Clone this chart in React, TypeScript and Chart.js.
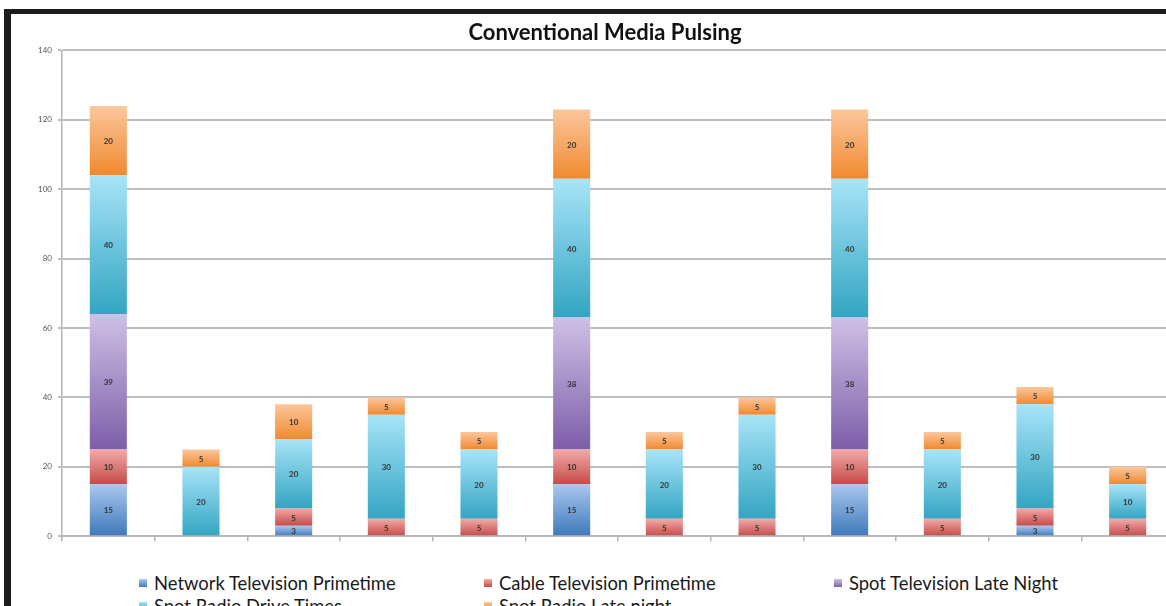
import React, { useEffect, useRef } from "react";
import { Chart, registerables } from "chart.js";

Chart.register(...registerables);

const categories = ["1", "2", "3", "4", "5", "6", "7", "8", "9", "10", "11", "12"];
const networkTV = [15, 0, 3, 0, 0, 15, 0, 0, 15, 0, 3, 0];
const cableTV = [10, 0, 5, 5, 5, 10, 5, 5, 10, 5, 5, 5];
const spotTVLate = [39, 0, 0, 0, 0, 38, 0, 0, 38, 0, 0, 0];
const radioDrive = [40, 20, 20, 30, 20, 40, 20, 30, 40, 20, 30, 10];
const radioLate = [20, 5, 10, 5, 5, 20, 5, 5, 20, 5, 5, 5];
const yTicks = [0, 20, 40, 60, 80, 100, 120, 140];

const seriesNames = [
  "Network Television Primetime",
  "Cable Television Primetime",
  "Spot Television Late Night",
  "Spot Radio Drive Times",
  "Spot Radio Late night",
];
const seriesData = [networkTV, cableTV, spotTVLate, radioDrive, radioLate];
const gradTop = ["#a9c8ee", "#f3aaa8", "#cfc0e6", "#a8e4f8", "#fcc79d"];
const gradBottom = ["#3f78bb", "#c44b49", "#7d5ea8", "#33a5c2", "#f0892f"];
const legendMid = ["#5a8fd0", "#d9605e", "#9a7fc4", "#5cc0dc", "#f5a05a"];

const legendPos = [
  { x: 139, y: 572 },
  { x: 484, y: 572 },
  { x: 834, y: 572 },
  { x: 139, y: 595 },
  { x: 484, y: 595 },
];

export default function App() {
  const ref = useRef<HTMLCanvasElement | null>(null);

  useEffect(() => {
    const canvas = ref.current;
    if (!canvas) return;

    const valueLabels = {
      id: "valueLabels",
      afterDatasetsDraw(chart: any) {
        const ctx = chart.ctx;
        ctx.save();
        ctx.font = "bold 8px Lato, 'DejaVu Sans', sans-serif";
        ctx.fillStyle = "#333333";
        ctx.textAlign = "center";
        ctx.textBaseline = "middle";
        chart.data.datasets.forEach((ds: any, di: number) => {
          const meta = chart.getDatasetMeta(di);
          meta.data.forEach((el: any, i: number) => {
            const v = ds.data[i];
            if (!v) return;
            ctx.fillText(String(v), el.x, (el.y + el.base) / 2 + 1);
          });
        });
        ctx.restore();
      },
    };

    const makeBg = (di: number) => (c: any) => {
      const chart = c.chart;
      const y = chart.scales && chart.scales.y;
      if (!y || c.type !== "data") return legendMid[di];
      const i = c.dataIndex;
      let start = 0;
      for (let k = 0; k < di; k++) start += seriesData[k][i];
      const v = seriesData[di][i];
      const y0 = y.getPixelForValue(start);
      const y1 = y.getPixelForValue(start + v);
      if (!isFinite(y0) || !isFinite(y1) || y0 === y1) return legendMid[di];
      const g = chart.ctx.createLinearGradient(0, y1, 0, y0);
      g.addColorStop(0, gradTop[di]);
      g.addColorStop(1, gradBottom[di]);
      return g;
    };

    const chart = new Chart(canvas, {
      type: "bar",
      data: {
        labels: categories,
        datasets: seriesData.map((d, di) => ({
          label: seriesNames[di],
          data: d,
          backgroundColor: makeBg(di),
          borderWidth: 0,
          barPercentage: 0.4,
          categoryPercentage: 1,
        })),
      },
      options: {
        animation: false,
        responsive: false,
        devicePixelRatio: 1,
        layout: { padding: { left: 25, right: 0, top: 6, bottom: 0 } },
        plugins: {
          legend: { display: false },
          tooltip: { enabled: false },
          title: {
            display: true,
            text: "Conventional Media Pulsing",
            color: "#111111",
            font: { family: "Lato, 'DejaVu Sans', sans-serif", size: 22, weight: "bold" },
            padding: { top: 0, bottom: 4 },
          },
        },
        scales: {
          x: {
            stacked: true,
            grid: {
              drawOnChartArea: false,
              drawTicks: true,
              tickLength: 5,
              color: "#b5b5b5",
              lineWidth: 1.5,
            },
            border: { display: true, color: "#b5b5b5", width: 1.5 },
            ticks: { display: false },
            afterFit: (s: any) => {
              s.height = 8;
            },
          },
          y: {
            stacked: true,
            min: 0,
            max: 140,
            afterBuildTicks: (s: any) => {
              s.ticks = yTicks.map((v) => ({ value: v }));
            },
            grid: {
              color: "#bdbdbd",
              lineWidth: 2,
              drawTicks: true,
              tickLength: 4,
            },
            border: { display: true, color: "#b5b5b5", width: 1.5 },
            ticks: {
              padding: 6,
              color: "#555555",
              font: { family: "Lato, 'DejaVu Sans', sans-serif", size: 8 },
            },
            afterFit: (s: any) => {
              s.width = 26;
            },
          },
        },
      },
      plugins: [valueLabels],
    });

    return () => chart.destroy();
  }, []);

  return (
    <div
      style={{
        position: "fixed",
        left: 0,
        top: 0,
        width: 1166,
        height: 606,
        overflow: "hidden",
        background: "#ffffff",
      }}
    >
      <div
        style={{
          position: "absolute",
          left: 4,
          top: 9,
          width: 2000,
          height: 2000,
          borderTop: "5px solid #1c1c1c",
          borderLeft: "7px solid #1c1c1c",
          boxSizing: "border-box",
        }}
      />
      <canvas
        ref={ref}
        width={1163}
        height={533}
        style={{ position: "absolute", left: 11, top: 14, width: 1163, height: 533 }}
      />
      {seriesNames.map((name, i) => (
        <div
          key={name}
          style={{
            position: "absolute",
            left: legendPos[i].x,
            top: legendPos[i].y,
            display: "flex",
            alignItems: "center",
            whiteSpace: "nowrap",
            fontFamily: "Lato, 'DejaVu Sans', sans-serif",
            fontSize: 18.4,
            lineHeight: "22px",
            color: "#1a1a1a",
          }}
        >
          <span
            style={{
              display: "inline-block",
              width: 8,
              height: 8,
              marginRight: 7,
              background: `linear-gradient(${gradTop[i]}, ${gradBottom[i]})`,
            }}
          />
          <span>{name}</span>
        </div>
      ))}
    </div>
  );
}
